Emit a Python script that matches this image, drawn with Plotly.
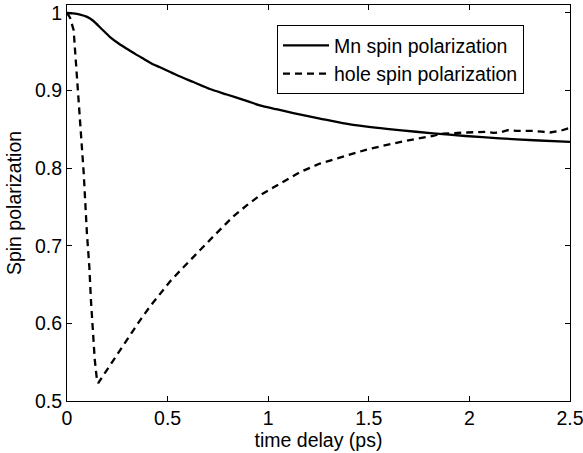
import plotly.graph_objects as go

# Mn spin polarization
mn_t = [0, 0.03, 0.065, 0.1, 0.13, 0.17, 0.214, 0.255, 0.297, 0.34, 0.38, 0.42, 0.462, 0.545, 0.628,
        0.71, 0.794, 0.877, 0.959, 1.04, 1.125, 1.257, 1.37, 1.49, 1.65, 1.82, 1.98, 2.15, 2.32, 2.5]
mn_v = [1.0, 0.9995, 0.998, 0.995, 0.990, 0.980, 0.969, 0.961, 0.954, 0.947, 0.941, 0.935, 0.930, 0.920, 0.911,
        0.902, 0.895, 0.888, 0.881, 0.876, 0.871, 0.864, 0.858, 0.8535, 0.849, 0.845, 0.8415, 0.8385, 0.836, 0.834]

# hole spin polarization
hole_t = [0, 0.015, 0.033, 0.045, 0.058, 0.071, 0.083, 0.099, 0.111, 0.119, 0.129, 0.138, 0.149,
          0.155, 0.165, 0.214, 0.263, 0.313, 0.363, 0.413, 0.462, 0.512, 0.57, 0.628, 0.677,
          0.727, 0.777, 0.827, 0.893, 0.959, 1.025, 1.092, 1.158, 1.257, 1.324, 1.407, 1.49,
          1.572, 1.655, 1.737, 1.82, 1.86, 1.90, 1.95, 1.987, 2.04, 2.086, 2.12, 2.152, 2.19,
          2.235, 2.28, 2.317, 2.36, 2.40, 2.45, 2.5]
hole_v = [1.0, 0.994, 0.978, 0.936, 0.888, 0.845, 0.794, 0.716, 0.673, 0.630, 0.588, 0.553, 0.527,
          0.523, 0.527, 0.546, 0.566, 0.585, 0.604, 0.622, 0.638, 0.654, 0.670, 0.686, 0.699,
          0.712, 0.725, 0.738, 0.752, 0.765, 0.775, 0.785, 0.795, 0.806, 0.811, 0.818, 0.824,
          0.829, 0.834, 0.838, 0.8415, 0.8445, 0.845, 0.846, 0.846, 0.8465, 0.847, 0.8455, 0.846, 0.849,
          0.848, 0.848, 0.848, 0.847, 0.846, 0.848, 0.852]

x_ticks = [0, 0.5, 1, 1.5, 2, 2.5]
x_labels = ["0", "0.5", "1", "1.5", "2", "2.5"]
y_ticks = [0.5, 0.6, 0.7, 0.8, 0.9, 1.0]
y_labels = ["0.5", "0.6", "0.7", "0.8", "0.9", "1"]

FONT = "Liberation Sans, Arial, Helvetica, sans-serif"
FS = 19.5

fig = go.Figure()
fig.add_trace(go.Scatter(x=mn_t, y=mn_v, mode="lines", name="Mn spin polarization",
                         line=dict(color="black", width=2.3, shape="spline", smoothing=0.6)))
fig.add_trace(go.Scatter(x=hole_t, y=hole_v, mode="lines", name="hole spin polarization",
                         line=dict(color="black", width=2.3, dash="7px,5px")))

axis_common = dict(showline=True, linecolor="black", linewidth=1, mirror="ticks",
                   ticks="inside", ticklen=5, tickcolor="black", tickwidth=1,
                   showgrid=False, zeroline=False, ticklabeloverflow="allow",
                   tickfont=dict(family=FONT, size=FS, color="black"))

fig.update_layout(
    width=583, height=453,
    margin=dict(l=67, r=13, t=5, b=52, autoexpand=False),
    paper_bgcolor="white", plot_bgcolor="white",
    font=dict(family=FONT, size=FS, color="black"),
    xaxis=dict(range=[0, 2.5], tickvals=x_ticks, ticktext=x_labels,
               title=dict(text="time delay (ps)", font=dict(family=FONT, size=FS), standoff=2),
               automargin=False, **axis_common),
    yaxis=dict(range=[0.5, 1.0103], tickvals=y_ticks, ticktext=y_labels,
               title=dict(text="Spin polarization", font=dict(family=FONT, size=FS), standoff=8),
               automargin=False, **axis_common),
    legend=dict(x=0.4175, y=0.949, xanchor="left", yanchor="top",
                bgcolor="white", bordercolor="black", borderwidth=1,
                font=dict(family=FONT, size=FS, color="black"),
                tracegroupgap=0, itemwidth=46),
    showlegend=True,
)

fig.write_html("out.html", config={"displayModeBar": False},
               post_script="document.body.style.margin='0';document.body.style.padding='0';")
